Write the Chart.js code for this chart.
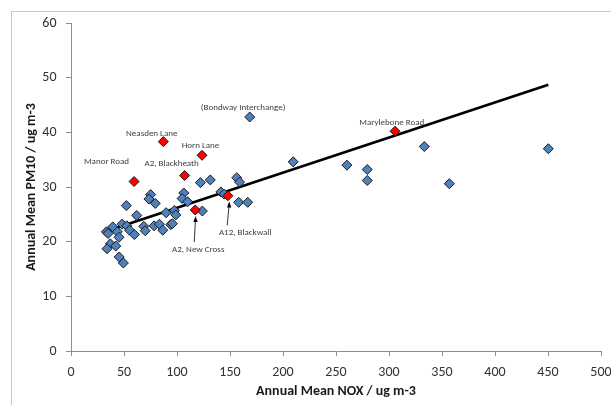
<!DOCTYPE html>
<html>
<head>
<meta charset="utf-8">
<script src="https://cdn.jsdelivr.net/npm/chart.js@4/dist/chart.umd.min.js"></script>
<style>
  html, body { margin: 0; padding: 0; background: #fff; }
  #wrap { width: 611px; height: 405px; position: relative; }
</style>
</head>
<body>
<div id="wrap"><canvas id="pmChart" width="611" height="405"></canvas></div>
<script>
// x = annual mean NOX, y = annual mean PM10 (ug m-3)
const blueNox = [168.6, 209.6, 260.3, 279.5, 279.5, 333.3, 356.9, 450.3, 156.4, 159, 158.2, 166.7,
  122.1, 131.4, 141.4, 144.5, 123.9, 106.4, 104.8, 110, 75.1, 73.5, 79.5, 52.2, 62, 89.7, 97.5,
  98.9, 94.1, 95.7, 68.7, 70, 78.4, 83.4, 86.6, 48.2, 52.7, 55.2, 59.8, 33.4, 35, 39.4, 43.7,
  45.3, 37.1, 42.2, 34, 45.5, 49.4];
const bluePm10 = [42.8, 34.6, 34.0, 33.2, 31.2, 37.4, 30.6, 37.0, 31.7, 30.9, 27.2, 27.2,
  30.8, 31.3, 29.1, 28.7, 25.6, 28.9, 27.9, 27.3, 28.6, 27.8, 27.0, 26.6, 24.8, 25.3, 25.7,
  24.9, 23.1, 23.3, 22.8, 22.0, 22.9, 23.2, 22.1, 23.2, 22.9, 22.1, 21.3, 21.8, 21.5, 22.7, 21.8,
  20.8, 19.6, 19.2, 18.7, 17.2, 16.1];

const redSites = ["Manor Road", "Neasden Lane", "Horn Lane", "A2, Blackheath", "A2, New Cross", "A12, Blackwall", "Marylebone Road"];
const redNox = [59.5, 87.1, 123.6, 107.2, 117.2, 148, 305.7];
const redPm10 = [31.0, 38.3, 35.8, 32.1, 25.8, 28.4, 40.2];

// trend line end points
const trendNox = [33.2, 450.3];
const trendPm10 = [21.9, 48.7];

const xTicks = [0, 50, 100, 150, 200, 250, 300, 350, 400, 450, 500];
const yTicks = [0, 10, 20, 30, 40, 50, 60];

const toPts = (xs, ys) => xs.map((x, i) => ({ x: x, y: ys[i] }));

// label placement (pixel offsets from the marked point)
const siteLabels = [
  { set: 2, idx: 0, dx: -27.6, dy: -19.7 },
  { set: 2, idx: 1, dx: -11.6, dy: -8 },
  { set: 2, idx: 2, dx: -1.6, dy: -10 },
  { set: 2, idx: 3, dx: -13, dy: -12 },
  { set: 2, idx: 4, dx: 3, dy: 39.3, arrow: [-1, 32, 0.3, 6] },
  { set: 2, idx: 5, dx: 17.3, dy: 37, arrow: [-0.7, 29.7, 1.3, 5.7] },
  { set: 2, idx: 6, dx: -3.3, dy: -8 },
  { set: 1, idx: 0, dx: -6.6, dy: -9.3, text: "(Bondway Interchange)" }
];

const FONT = "Carlito, 'Liberation Sans', sans-serif";

const annotate = {
  id: "annotate",
  beforeDraw(chart) {
    const ctx = chart.ctx;
    ctx.save();
    ctx.strokeStyle = "#c6c6c6";
    ctx.lineWidth = 1;
    ctx.strokeRect(11.5, 11.5, 700, 500);
    ctx.restore();
  },
  afterDatasetsDraw(chart) {
    const ctx = chart.ctx;
    ctx.save();
    ctx.font = "9px " + FONT;
    ctx.textAlign = "center";
    ctx.textBaseline = "middle";
    siteLabels.forEach((l) => {
      const el = chart.getDatasetMeta(l.set).data[l.idx];
      const text = l.text || redSites[l.idx];
      ctx.fillStyle = "#404040";
      ctx.fillText(text, el.x + l.dx, el.y + l.dy);
      if (l.arrow) {
        const [x0, y0, x1, y1] = l.arrow;
        const sx = el.x + x0, sy = el.y + y0, ex = el.x + x1, ey = el.y + y1;
        ctx.strokeStyle = "#000";
        ctx.lineWidth = 0.8;
        ctx.beginPath();
        ctx.moveTo(sx, sy);
        ctx.lineTo(ex, ey + 3);
        ctx.stroke();
        ctx.fillStyle = "#000";
        ctx.beginPath();
        ctx.moveTo(ex, ey);
        ctx.lineTo(ex - 2.2, ey + 6);
        ctx.lineTo(ex + 2.2, ey + 6);
        ctx.closePath();
        ctx.fill();
      }
    });
    ctx.restore();
  }
};

const axisColor = "#8c8c8c";

new Chart(document.getElementById("pmChart"), {
  type: "scatter",
  data: {
    datasets: [
      {
        type: "line",
        data: toPts(trendNox, trendPm10),
        borderColor: "#000",
        borderWidth: 2.8,
        pointRadius: 0,
        fill: false,
        order: 3
      },
      {
        data: toPts(blueNox, bluePm10),
        pointStyle: "rectRot",
        pointRadius: 5,
        pointBackgroundColor: "#4f81bd",
        pointBorderColor: "#1a1a1a",
        pointBorderWidth: 1,
        order: 2
      },
      {
        data: toPts(redNox, redPm10),
        pointStyle: "rectRot",
        pointRadius: 5,
        pointBackgroundColor: "#ff0000",
        pointBorderColor: "#1a1a1a",
        pointBorderWidth: 1,
        order: 1
      }
    ]
  },
  options: {
    responsive: false,
    animation: false,
    layout: { padding: { left: 0, right: 10, top: 23, bottom: 0 } },
    plugins: {
      legend: { display: false },
      tooltip: { enabled: false }
    },
    scales: {
      x: {
        type: "linear",
        min: 0,
        max: 500,
        afterBuildTicks: (s) => { s.ticks = xTicks.map((v) => ({ value: v })); },
        afterFit: (s) => { s.height = 54; s.paddingRight = 0; s.paddingLeft = 0; },
        border: { color: axisColor, width: 1 },
        grid: { drawOnChartArea: false, drawTicks: true, tickLength: 5, color: axisColor },
        ticks: { color: "#333", padding: 8, maxRotation: 0, font: { family: FONT, size: 14 } },
        title: {
          display: true,
          text: "Annual Mean NOX / ug m-3",
          color: "#1a1a1a",
          padding: { top: 0, bottom: 5.6 },
          font: { family: FONT, size: 14, weight: "bold" }
        }
      },
      y: {
        type: "linear",
        min: 0,
        max: 60,
        afterBuildTicks: (s) => { s.ticks = yTicks.map((v) => ({ value: v })); },
        afterFit: (s) => { s.width = 71; },
        border: { color: axisColor, width: 1 },
        grid: { drawOnChartArea: false, drawTicks: true, tickLength: 5, color: axisColor },
        ticks: { color: "#333", padding: 9.5, font: { family: FONT, size: 14 } },
        title: {
          display: true,
          text: "Annual Mean PM10 / ug m-3",
          color: "#1a1a1a",
          padding: { top: 23.3, bottom: 0 },
          font: { family: FONT, size: 14, weight: "bold" }
        }
      }
    }
  },
  plugins: [annotate]
});
</script>
</body>
</html>
